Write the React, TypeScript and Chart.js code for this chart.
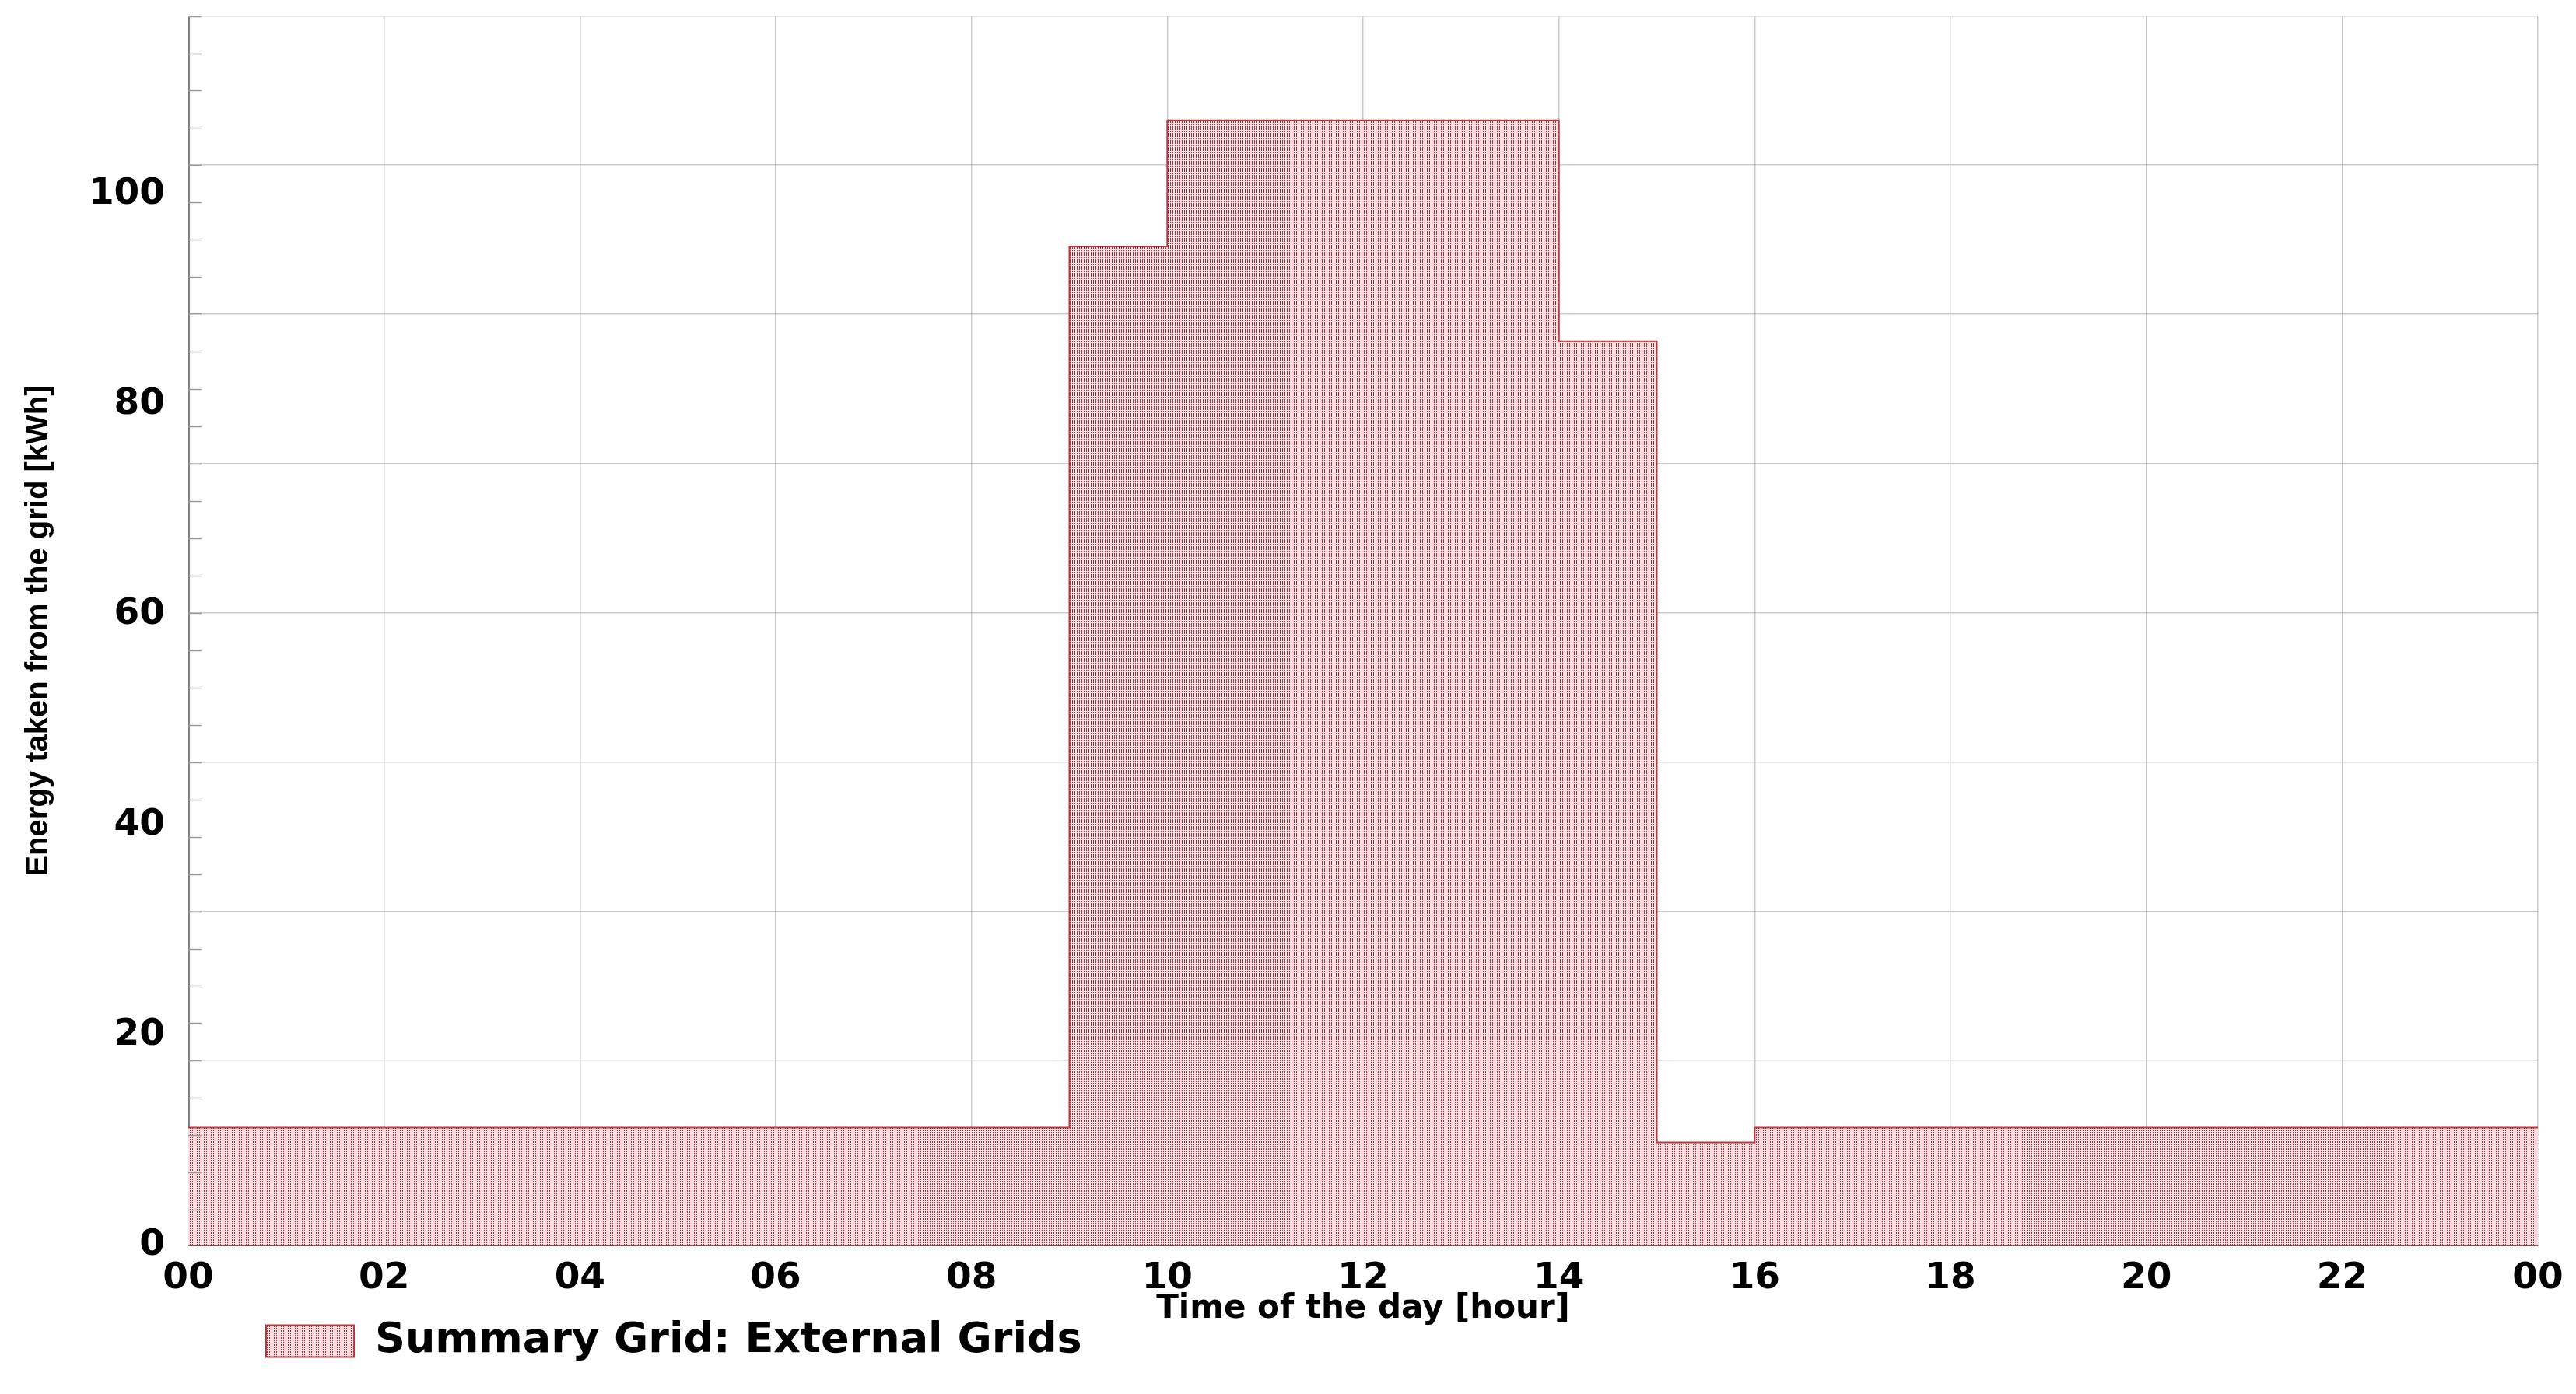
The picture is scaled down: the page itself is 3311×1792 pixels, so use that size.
import React, { useEffect, useRef } from 'react';
import { Chart, registerables } from 'chart.js';

Chart.register(...registerables);

// ---- data ----
const hours = [0, 1, 2, 3, 4, 5, 6, 7, 8, 9, 10, 11, 12, 13, 14, 15, 16, 17, 18, 19, 20, 21, 22, 23];
const gridEnergy = [
  11.2, 11.2, 11.2, 11.2, 11.2, 11.2, 11.2, 11.2, 11.2,
  95.0,
  107.0, 107.0, 107.0, 107.0,
  86.0,
  9.8,
  11.2, 11.2, 11.2, 11.2, 11.2, 11.2, 11.2, 11.2,
];
const seriesLabel = 'Summary Grid: External Grids';
const xTickValues = [0, 2, 4, 6, 8, 10, 12, 14, 16, 18, 20, 22, 24];
const xTickLabels = ['00', '02', '04', '06', '08', '10', '12', '14', '16', '18', '20', '22', '00'];
const yTickValues = [0, 20, 40, 60, 80, 100];
const yGridLines = [116.9, 102.8, 88.6, 74.35, 60.15, 45.95, 31.75, 17.6, 3.4];
const Y_MIN = 0;
const Y_MAX = 116.9;
const X_MIN = 0;
const X_MAX = 24;

const LEGEND_LEFT = 332;
const GRID_COLOR = 'rgba(140,140,140,0.45)';

function makePattern(): CanvasPattern | string {
  const c = document.createElement('canvas');
  c.width = 3;
  c.height = 3;
  const g = c.getContext('2d');
  if (!g) return '#dcb4b4';
  g.fillStyle = 'rgb(244,224,224)';
  g.fillRect(0, 0, 3, 3);
  g.fillStyle = 'rgb(150,45,55)';
  g.fillRect(1, 0, 1, 2);
  const ctx2 = document.createElement('canvas').getContext('2d');
  const p = ctx2 ? ctx2.createPattern(c, 'repeat') : null;
  return p || '#dcb4b4';
}

const minorTicksPlugin = {
  id: 'minorTicks',
  afterDatasetsDraw(chart: any) {
    const s = chart.scales.yGrid;
    if (!s) return;
    const ctx = chart.ctx;
    const left = chart.chartArea.left;
    ctx.save();
    ctx.strokeStyle = '#9a9a9a';
    ctx.lineWidth = 1.5;
    for (let i = 0; i < yGridLines.length; i++) {
      const a = yGridLines[i];
      const b = i + 1 < yGridLines.length ? yGridLines[i + 1] : a - (yGridLines[i - 1] - a);
      for (let k = 0; k < 4; k++) {
        const v = a - ((a - b) * k) / 4;
        if (v <= Y_MIN || v > Y_MAX) continue;
        const py = Math.round(s.getPixelForValue(v)) + 0.5;
        ctx.beginPath();
        ctx.moveTo(left, py);
        ctx.lineTo(left + 17, py);
        ctx.stroke();
      }
    }
    ctx.restore();
  },
};

const legendOffsetPlugin = {
  id: 'legendOffset',
  afterLayout(chart: any) {
    if (chart.legend) chart.legend.left = LEGEND_LEFT;
  },
};

export default function App() {
  const ref = useRef<HTMLCanvasElement>(null);

  useEffect(() => {
    const canvas = ref.current;
    if (!canvas) return;
    const points = hours.map((h, i) => ({ x: h, y: gridEnergy[i] }));
    points.push({ x: X_MAX, y: gridEnergy[gridEnergy.length - 1] });
    const pattern = makePattern();

    const chart = new Chart(canvas, {
      type: 'line',
      data: {
        datasets: [
          {
            label: seriesLabel,
            data: points,
            stepped: 'before',
            fill: 'origin',
            backgroundColor: pattern as any,
            borderColor: '#b8383f',
            borderWidth: 2,
            pointRadius: 0,
            yAxisID: 'y',
          },
        ],
      },
      options: {
        animation: false,
        responsive: true,
        maintainAspectRatio: false,
        layout: { padding: { top: 21, right: 49, bottom: 31, left: 0 } },
        plugins: {
          tooltip: { enabled: false },
          legend: {
            position: 'bottom',
            align: 'start',
            labels: {
              boxWidth: 113,
              boxHeight: 41,
              padding: 10,
              color: '#000',
              font: { family: 'DejaVu Sans', weight: 'bold', size: 54 },
            },
          },
        },
        scales: {
          x: {
            type: 'linear',
            min: X_MIN,
            max: X_MAX,
            afterBuildTicks: (s: any) => {
              s.ticks = xTickValues.map((v) => ({ value: v }));
            },
            afterFit: (s: any) => {
              s.height = 86;
            },
            ticks: {
              autoSkip: false,
              maxRotation: 0,
              padding: 15,
              color: '#000',
              font: { family: 'DejaVu Sans', weight: 'bold', size: 47 },
              callback: (_v: any, i: number) => xTickLabels[i],
            },
            grid: {
              drawTicks: false,
              lineWidth: 1.5,
              color: (c: any) => (c.tick && c.tick.value === X_MIN ? 'rgba(0,0,0,0)' : GRID_COLOR),
            },
            border: { display: true, color: '#8b4a4a', width: 2 },
            title: {
              display: true,
              text: 'Time of the day [hour]',
              color: '#000',
              font: { family: 'DejaVu Sans', weight: 'bold', size: 42, lineHeight: 1 },
              padding: { top: 0, bottom: -17 },
            },
            z: 1,
          },
          y: {
            type: 'linear',
            position: 'left',
            min: Y_MIN,
            max: Y_MAX,
            afterBuildTicks: (s: any) => {
              s.ticks = yTickValues.map((v) => ({ value: v }));
            },
            afterFit: (s: any) => {
              s.width = 242;
              s.paddingTop = 0;
              s.paddingBottom = 0;
            },
            ticks: {
              padding: 30,
              color: '#000',
              font: { family: 'DejaVu Sans', weight: 'bold', size: 47 },
              callback: (v: any) => String(v),
            },
            grid: { display: false, drawTicks: false },
            border: { display: true, color: '#7f7f7f', width: 3 },
            title: {
              display: true,
              text: 'Energy taken from the grid [kWh]',
              color: '#000',
              font: {
                family: "'Liberation Sans', Arial, sans-serif",
                weight: 'bold',
                size: 40,
                lineHeight: 1,
              },
              padding: { top: 30, bottom: 0 },
            },
            z: 2,
          },
          yGrid: {
            type: 'linear',
            position: 'left',
            min: Y_MIN,
            max: Y_MAX,
            afterBuildTicks: (s: any) => {
              s.ticks = yGridLines.map((v) => ({ value: v }));
            },
            afterFit: (s: any) => {
              s.width = 0;
              s.paddingTop = 0;
              s.paddingBottom = 0;
            },
            ticks: { display: false },
            grid: { drawTicks: false, lineWidth: 1.5, color: GRID_COLOR },
            border: { display: false },
            z: 1,
          },
        },
      } as any,
      plugins: [minorTicksPlugin, legendOffsetPlugin],
    });

    return () => chart.destroy();
  }, []);

  return (
    <div style={{ position: 'fixed', left: 0, top: 0, width: 3311, height: 1792, background: '#ffffff' }}>
      <canvas ref={ref} />
    </div>
  );
}
